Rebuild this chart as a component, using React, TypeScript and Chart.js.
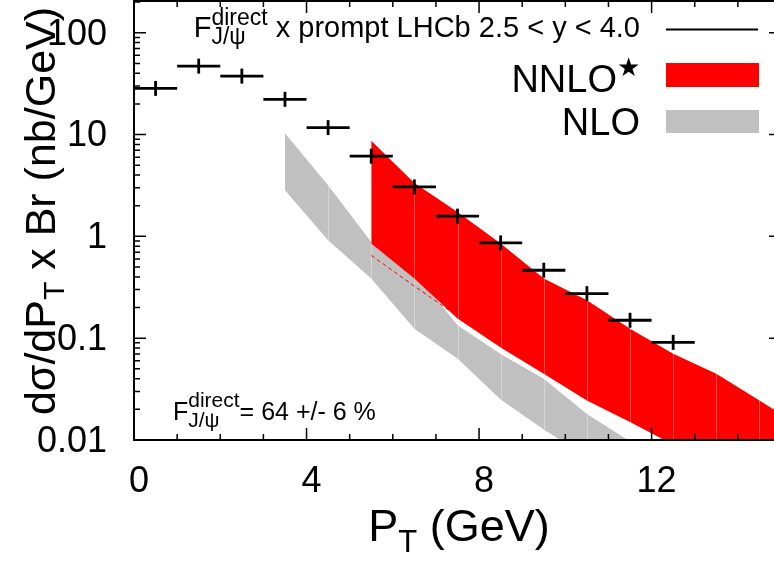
import React, { useEffect, useRef } from "react";
import { Chart, registerables } from "chart.js";

Chart.register(...registerables);

// ---------------- data ----------------
// LHCb prompt J/psi x F_direct (bin centres, GeV) and values (nb/GeV)
const binCenters = [0.5, 1.5, 2.5, 3.5, 4.5, 5.5, 6.5, 7.5, 8.5, 9.5, 10.5, 11.5, 12.5];
const binHalfWidth = 0.5;
const lhcbValues = [28.4, 47.0, 37.5, 22.2, 11.7, 6.13, 3.06, 1.58, 0.863, 0.465, 0.274, 0.150, 0.091];

// NNLO* band
const nnloPt = [5.5, 6.5, 7.5, 8.5, 9.5, 10.5, 11.5, 12.5, 13.5, 14.5, 15.5];
const nnloUpper = [8.7, 3.35, 1.74, 0.85, 0.385, 0.236, 0.124, 0.0703, 0.0448, 0.0244, 0.0133];
const nnloLower = [0.85, 0.385, 0.156, 0.081, 0.0448, 0.0244, 0.0150, 0.0090, 0.0055, 0.0033, 0.002];

// NLO band
const nloPt = [3.5, 4.5, 5.5, 6.5, 7.5, 8.5, 9.5, 10.5, 11.5, 12.5];
const nloUpper = [10.3, 3.18, 0.88, 0.45, 0.134, 0.070, 0.040, 0.018, 0.0097, 0.005];
const nloLower = [2.84, 0.916, 0.385, 0.124, 0.063, 0.025, 0.0127, 0.0068, 0.0032, 0.0015];

// dashed red line
const dashedPt = [5.5, 6.5, 7.5];
const dashedValues = [0.65, 0.325, 0.165];

// axes
const xRange = [0, 15];
const yRange = [0.01, 205];
const xTickLabels = [0, 4, 8, 12];
const xMinorStep = 1;
const yTickLabels = [0.01, 0.1, 1, 10, 100];

// texts
const yTitleMain = "dσ/dP";
const yTitleSub = "T";
const yTitleRest = " x Br (nb/GeV)";
const xTitleMain = "P";
const xTitleSub = "T";
const xTitleRest = " (GeV)";
const fracMain = "F";
const fracSup = "direct";
const fracSub = "J/ψ";
const legendDataRest = " x prompt LHCb 2.5 < y < 4.0";
const legendNnlo = "NNLO";
const legendNnloStar = "★";
const legendNlo = "NLO";
const fractionNote = "= 64 +/- 6 %";

// ---------------- style helpers ----------------
const FONT_FAMILY = "'Liberation Sans', Arial, Helvetica, sans-serif";
const fnt = (px: number) => `${px}px ${FONT_FAMILY}`;
const RED = "#ff0000";
const GRAY = "#c0c0c0";

function textW(ctx: CanvasRenderingContext2D, t: string, size: number) {
  ctx.font = fnt(size);
  return ctx.measureText(t).width;
}

function fracWidth(ctx: CanvasRenderingContext2D, main: number, script: number) {
  return textW(ctx, fracMain, main) + Math.max(textW(ctx, fracSup, script), textW(ctx, fracSub, script));
}

function drawFrac(ctx: CanvasRenderingContext2D, x: number, y: number, main: number, script: number, supDy: number, subDy: number) {
  ctx.textAlign = "left";
  ctx.font = fnt(main);
  ctx.fillText(fracMain, x, y);
  const wF = ctx.measureText(fracMain).width;
  ctx.font = fnt(script);
  ctx.fillText(fracSup, x + wF, y + supDy);
  ctx.fillText(fracSub, x + wF, y + subDy);
  return fracWidth(ctx, main, script);
}

function drawSubTitle(ctx: CanvasRenderingContext2D, main: string, sub: string, rest: string, size: number, subSize: number, subDy: number) {
  // centred at (0, 0) baseline
  const w1 = textW(ctx, main, size);
  const w2 = textW(ctx, sub, subSize);
  const w3 = textW(ctx, rest, size);
  let x = -(w1 + w2 + w3) / 2;
  ctx.textAlign = "left";
  ctx.font = fnt(size);
  ctx.fillText(main, x, 0);
  x += w1;
  ctx.font = fnt(subSize);
  ctx.fillText(sub, x, subDy);
  x += w2;
  ctx.font = fnt(size);
  ctx.fillText(rest, x, 0);
}

function drawSeams(chart: any, xs: number[], up: number[], lo: number[], color: string) {
  const ctx: CanvasRenderingContext2D = chart.ctx;
  const a = chart.chartArea;
  const sx = chart.scales.x;
  const sy = chart.scales.y;
  ctx.save();
  ctx.beginPath();
  ctx.rect(a.left, a.top, a.right - a.left, a.bottom - a.top);
  ctx.clip();
  ctx.strokeStyle = color;
  ctx.lineWidth = 1;
  for (let i = 1; i < xs.length; i++) {
    const px = Math.round(sx.getPixelForValue(xs[i])) + 0.5;
    ctx.beginPath();
    ctx.moveTo(px, sy.getPixelForValue(up[i]));
    ctx.lineTo(px, sy.getPixelForValue(lo[i]));
    ctx.stroke();
  }
  ctx.restore();
}

const zeroPadding = (s: any) => {
  s.paddingTop = 0;
  s.paddingBottom = 0;
  s.paddingLeft = 0;
  s.paddingRight = 0;
};

const decorPlugin = {
  id: "decor",
  afterDatasetDraw(chart: any, args: any) {
    if (args.index === 5) drawSeams(chart, nloPt, nloUpper, nloLower, "rgba(255,255,255,0.35)");
    if (args.index === 2) drawSeams(chart, nnloPt, nnloUpper, nnloLower, "rgba(255,255,255,0.3)");
  },
  afterDraw(chart: any) {
    const ctx: CanvasRenderingContext2D = chart.ctx;
    const a = chart.chartArea;
    const sx = chart.scales.x;
    const sy = chart.scales.y;
    ctx.save();
    ctx.strokeStyle = "#000";
    ctx.fillStyle = "#000";

    // frame
    ctx.lineWidth = 2;
    ctx.strokeRect(a.left, a.top, a.right - a.left, a.bottom - a.top);

    // x ticks (inward, mirrored)
    ctx.lineWidth = 1.5;
    for (let v = xRange[0]; v <= xRange[1]; v += xMinorStep) {
      const px = sx.getPixelForValue(v);
      const len = xTickLabels.includes(v) ? 12 : 6;
      ctx.beginPath();
      ctx.moveTo(px, a.bottom);
      ctx.lineTo(px, a.bottom - len);
      ctx.moveTo(px, a.top);
      ctx.lineTo(px, a.top + len);
      ctx.stroke();
    }
    // y ticks (log, inward, mirrored)
    for (let d = -2; d <= 2; d++) {
      for (let m = 1; m <= 9; m++) {
        const v = m * Math.pow(10, d);
        if (v < yRange[0] * 0.999 || v > yRange[1]) continue;
        const py = sy.getPixelForValue(v);
        const len = m === 1 ? 12 : 6;
        ctx.beginPath();
        ctx.moveTo(a.left, py);
        ctx.lineTo(a.left + len, py);
        ctx.moveTo(a.right, py);
        ctx.lineTo(a.right - len, py);
        ctx.stroke();
      }
    }

    ctx.textBaseline = "alphabetic";

    // y title (rotated)
    ctx.save();
    ctx.translate(55, 211);
    ctx.rotate(-Math.PI / 2);
    drawSubTitle(ctx, yTitleMain, yTitleSub, yTitleRest, 43, 30, 9);
    ctx.restore();

    // x title
    ctx.save();
    ctx.translate(459, 541);
    drawSubTitle(ctx, xTitleMain, xTitleSub, xTitleRest, 45, 31, 11);
    ctx.restore();

    // key: data line
    const restW = textW(ctx, legendDataRest, 29);
    ctx.textAlign = "right";
    ctx.font = fnt(29);
    ctx.fillText(legendDataRest, 640, 37);
    const fw = fracWidth(ctx, 29, 23);
    drawFrac(ctx, 640 - restW - fw, 37, 29, 23, -12, 7);
    ctx.lineWidth = 2;
    ctx.beginPath();
    ctx.moveTo(666, 29.5);
    ctx.lineTo(758, 29.5);
    ctx.stroke();

    // key: NNLO*
    ctx.textAlign = "right";
    ctx.font = fnt(38);
    ctx.fillText(legendNnlo, 617, 92);
    ctx.textAlign = "left";
    ctx.font = `26px 'DejaVu Sans', sans-serif`;
    ctx.fillText(legendNnloStar, 617, 76);
    ctx.fillStyle = RED;
    ctx.fillRect(666, 63, 93, 24);

    // key: NLO
    ctx.fillStyle = "#000";
    ctx.textAlign = "right";
    ctx.font = fnt(38);
    ctx.fillText(legendNlo, 640, 135);
    ctx.fillStyle = GRAY;
    ctx.fillRect(666, 110, 93, 23);

    // bottom-left note
    ctx.fillStyle = "#000";
    const w = drawFrac(ctx, 173, 420, 25, 21, -13, 7);
    ctx.textAlign = "left";
    ctx.font = fnt(25);
    ctx.fillText(fractionNote, 173 + w, 420);

    ctx.restore();
  },
};

export default function App() {
  const ref = useRef<HTMLCanvasElement>(null);

  useEffect(() => {
    const canvas = ref.current;
    if (!canvas) return;
    const pts = (xs: number[], ys: number[]) => xs.map((x, i) => ({ x, y: ys[i] }));
    const errorBarData: any[] = [];
    binCenters.forEach((x, i) => {
      errorBarData.push({ x: x - binHalfWidth, y: lhcbValues[i] });
      errorBarData.push({ x: x + binHalfWidth, y: lhcbValues[i] });
      errorBarData.push({ x: x + binHalfWidth, y: null });
    });

    const chart = new Chart(canvas, {
      type: "line",
      data: {
        datasets: [
          {
            label: "LHCb x-bins",
            data: errorBarData,
            borderColor: "#000",
            borderWidth: 2.8,
            pointRadius: 0,
            spanGaps: false,
            fill: false,
          },
          {
            label: "LHCb",
            data: pts(binCenters, lhcbValues),
            showLine: false,
            pointStyle: "line",
            pointRotation: 90,
            pointRadius: 7.5,
            pointBorderWidth: 2.8,
            pointBorderColor: "#000",
            borderColor: "#000",
          },
          {
            label: "NNLO upper",
            data: pts(nnloPt, nnloUpper),
            borderWidth: 0,
            borderColor: "transparent",
            pointRadius: 0,
            fill: "+1",
            backgroundColor: RED,
          },
          {
            label: "NNLO lower",
            data: pts(nnloPt, nnloLower),
            borderWidth: 0,
            borderColor: "transparent",
            pointRadius: 0,
            fill: false,
          },
          {
            label: "dashed",
            data: pts(dashedPt, dashedValues),
            borderColor: RED,
            borderWidth: 1,
            borderDash: [4, 3],
            pointRadius: 0,
            fill: false,
          },
          {
            label: "NLO upper",
            data: pts(nloPt, nloUpper),
            borderWidth: 0,
            borderColor: "transparent",
            pointRadius: 0,
            fill: "+1",
            backgroundColor: GRAY,
          },
          {
            label: "NLO lower",
            data: pts(nloPt, nloLower),
            borderWidth: 0,
            borderColor: "transparent",
            pointRadius: 0,
            fill: false,
          },
        ],
      },
      options: {
        responsive: false,
        maintainAspectRatio: false,
        animation: false,
        devicePixelRatio: 1,
        events: [],
        layout: { autoPadding: false, padding: { left: 0, top: 1, right: 19, bottom: 0 } },
        plugins: { legend: { display: false }, tooltip: { enabled: false } },
        scales: {
          x: {
            type: "linear",
            position: "bottom",
            min: xRange[0],
            max: xRange[1],
            grid: { display: false, drawTicks: false },
            border: { display: false },
            afterFit: (s: any) => {
              s.height = 124;
              zeroPadding(s);
            },
            afterBuildTicks: (s: any) => {
              s.ticks = xTickLabels.map((v) => ({ value: v }));
            },
            ticks: {
              font: { size: 36, family: FONT_FAMILY },
              color: "#000",
              padding: 20,
              labelOffset: 5,
              maxRotation: 0,
              autoSkip: false,
            },
          },
          y: {
            type: "logarithmic",
            position: "left",
            min: yRange[0],
            max: yRange[1],
            grid: { display: false, drawTicks: false },
            border: { display: false },
            afterFit: (s: any) => {
              s.width = 134;
              zeroPadding(s);
            },
            afterBuildTicks: (s: any) => {
              s.ticks = yTickLabels.map((v) => ({ value: v }));
            },
            ticks: {
              font: { size: 36, family: FONT_FAMILY },
              color: "#000",
              padding: 27,
              labelOffset: 2,
              autoSkip: false,
              callback: (v: any) => String(v),
            },
          },
        },
      },
      plugins: [decorPlugin],
    } as any);

    return () => chart.destroy();
  }, []);

  return (
    <div
      style={{
        position: "fixed",
        left: 0,
        top: 0,
        width: 774,
        height: 564,
        overflow: "hidden",
        background: "#fff",
      }}
    >
      <canvas ref={ref} width={800} height={564} style={{ display: "block", width: 800, height: 564 }} />
    </div>
  );
}
